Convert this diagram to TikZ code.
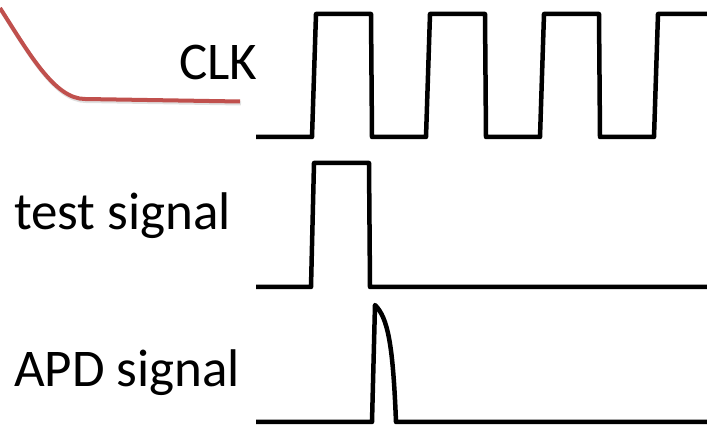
\documentclass[tikz,border=0pt]{standalone}
\usepackage{fontspec}
\setmainfont{Carlito}
\usepackage{tikz}
\definecolor{curvered}{RGB}{192,80,77}
\tikzset{wave/.style={
    draw=black, line width=4.5pt, line join=round
  },
  siglabel/.style={
    anchor=base west, inner sep=0pt, outer sep=0pt,
    font=\fontsize{53}{53}\selectfont
  }
}

\begin{document}
\begin{tikzpicture}[x=1pt,y=-1pt]
    \useasboundingbox (0,0) rectangle (707,427);

    % red curve with a faint shadow
    \draw[line width=4pt, black!12] (1,10) .. controls (31,57) and (56,101) .. (86,101) -- (241,103.5);
    \draw[line width=4pt, curvered] (0,8) .. controls (30,55) and (55,99) .. (85,99) -- (240,101.5);

    \node[siglabel] (clk) at (179,80) {CLK};
    \node[siglabel] (test) at (14,230) {test signal};
    \node[siglabel] (apd) at (14,387) {APD signal};

    % clock
    \draw[wave] (256,137)
      \foreach \t in {312,426,540} {
        -- (\t,137) -- (\t+4,14) -- (\t+59,14) -- (\t+60,137)
      }
      -- (654,137) -- (658,14) -- (707,14);

    % test signal
    \draw[wave] (256,287) -- (311,287) -- (314,163) -- (369,163) -- (370,287) -- (707,287);

    % APD signal
    \draw[wave] (256,422) -- (372,422) -- (375,305)
      .. controls (388,318) and (393,345) .. (396,422) -- (707,422);
\end{tikzpicture}
\end{document}
